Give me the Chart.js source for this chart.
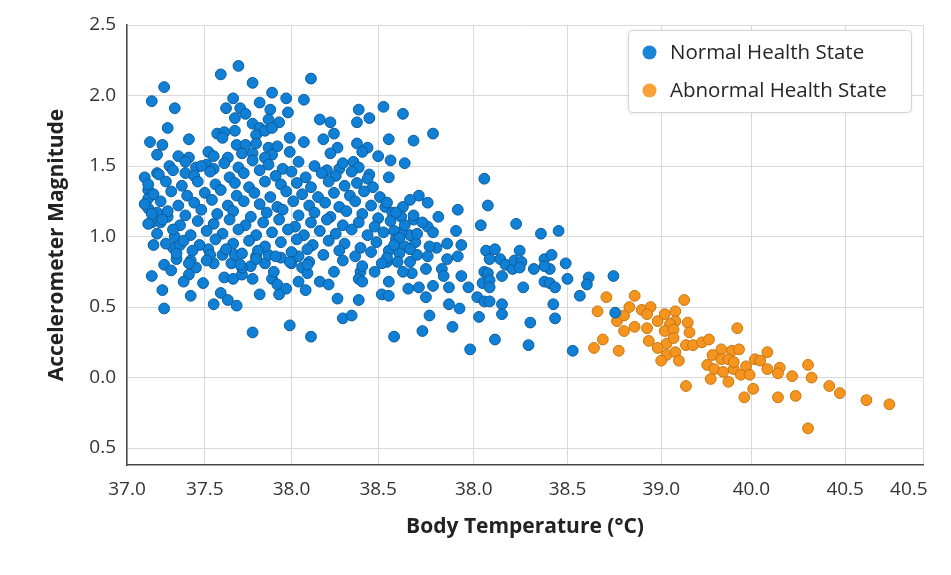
<!DOCTYPE html>
<html>
<head>
<meta charset="utf-8">
<script src="https://cdn.jsdelivr.net/npm/chart.js@4.4.1/dist/chart.umd.min.js"></script>
<style>
  html, body { margin: 0; padding: 0; background: #ffffff; }
  canvas { display: block; }
</style>
</head>
<body>
<canvas id="chart" width="951" height="575"></canvas>
<script>
// ---- Data ----
const seriesLabels = ['Normal Health State', 'Abnormal Health State'];

// x-axis tick positions (data units) and the labels printed under them
const xTickValues = [37.0, 37.44, 37.93, 38.42, 38.96, 39.49, 40.02, 40.53, 41.06, 41.42, 41.5];
const xTickLabels = ['37.0', '37.5', '38.0', '38.5', '38.0', '38.5', '39.0', '40.0', '40.5', '40.5', ''];
// y-axis tick positions and labels
const yTickValues = [-0.5, 0.0, 0.5, 1.0, 1.5, 2.0, 2.5];
const yTickLabels = ['0.5', '0.0', '0.5', '1.0', '1.5', '2.0', '2.5'];

// Normal health state: [body temperature, accelerometer magnitude]
const normalPoints = [
  [37.63,2.21],[37.53,2.15],[37.71,2.09],[37.21,2.06],[37.14,1.96],[37.27,1.91],[37.60,1.98],[37.56,1.91],
  [37.64,1.91],[37.67,1.87],[37.61,1.84],[37.75,1.95],[37.82,2.02],[37.90,1.98],[38.00,1.97],[38.04,2.12],
  [37.81,1.90],[37.91,1.88],[37.86,1.81],[37.80,1.83],[37.71,1.80],[37.23,1.77],[37.13,1.67],[37.20,1.65],
  [37.35,1.69],[37.17,1.58],[37.29,1.57],[37.35,1.56],[37.51,1.73],[37.55,1.74],[37.61,1.75],[37.54,1.70],
  [37.75,1.77],[37.73,1.72],[37.78,1.75],[37.82,1.77],[37.92,1.70],[38.00,1.67],[37.62,1.65],[37.67,1.65],
  [37.73,1.66],[37.80,1.63],[37.85,1.64],[37.92,1.60],[37.46,1.60],[37.49,1.57],[37.65,1.59],[37.71,1.59],
  [37.82,1.58],[37.78,1.56],[37.57,1.56],[37.24,1.50],[37.17,1.45],[37.10,1.42],[37.33,1.45],[37.39,1.49],
  [37.45,1.51],[37.49,1.48],[37.12,1.33],[37.12,1.27],[37.12,1.20],[37.17,1.17],[37.14,1.10],[37.19,1.10],
  [37.23,1.14],[37.15,0.94],[37.27,1.00],[37.26,0.92],[37.30,0.94],[37.28,0.84],[37.21,0.80],[37.25,0.76],
  [37.14,0.72],[37.36,0.83],[37.39,0.78],[37.35,0.73],[37.32,0.68],[37.43,0.67],[37.36,0.58],[37.20,0.62],
  [37.21,0.49],[37.49,0.81],[37.46,0.91],[37.55,0.71],[37.60,0.70],[37.53,0.60],[37.57,0.55],[37.62,0.51],
  [37.49,0.52],[37.75,0.59],[37.71,0.32],[37.92,0.37],[37.65,0.73],[37.71,0.70],[37.82,0.70],[37.85,0.66],
  [37.90,0.63],[37.86,0.59],[38.01,0.62],[37.97,0.68],[38.04,0.29],[37.83,0.75],[37.78,0.81],[37.93,0.81],
  [37.99,0.78],[38.02,0.74],[37.70,0.79],[37.65,0.78],[37.59,0.81],[37.54,0.87],[37.61,0.87],[37.73,0.86],
  [37.80,0.87],[37.87,0.85],[37.97,0.86],[38.03,0.82],
  [38.31,1.90],[38.45,1.92],[38.56,1.87],[38.37,1.84],[38.30,1.81],[38.09,1.83],[38.15,1.81],[38.73,1.73],
  [38.48,1.69],[38.62,1.68],[38.17,1.73],[38.11,1.69],[38.19,1.63],[38.30,1.66],[38.36,1.63],[38.33,1.60],
  [38.42,1.57],[38.49,1.54],[38.57,1.52],[38.48,1.42],[39.02,1.41],[39.04,1.22],[39.00,1.08],[38.28,1.53],
  [38.20,1.48],[38.37,1.44],[38.65,1.29],[38.70,1.24],[38.60,1.26],[38.56,1.21],[38.46,1.21],[38.50,1.17],
  [38.55,1.14],[38.62,1.12],[38.87,1.19],[38.76,1.14],[38.70,1.07],[38.73,1.03],[38.86,1.04],[38.89,0.94],
  [38.81,0.95],[38.75,0.92],[38.71,0.93],[38.70,0.86],[38.81,0.84],[38.87,0.86],[38.63,0.96],[38.60,1.01],
  [38.55,1.03],[38.51,1.04],[38.52,0.98],[38.57,0.93],[38.54,0.88],[38.48,0.90],[38.47,0.82],[38.53,0.82],
  [38.60,0.82],[38.64,0.87],[38.69,0.77],[38.78,0.77],[38.79,0.72],[38.89,0.72],[38.61,0.74],[38.56,0.75],
  [38.48,0.68],[38.40,0.75],[38.32,0.75],[38.31,0.70],[38.33,0.68],[38.44,0.59],[38.48,0.58],[38.59,0.63],
  [38.65,0.64],[38.73,0.65],[38.82,0.64],[38.93,0.64],[38.98,0.57],[39.02,0.54],[39.01,0.67],[39.02,0.75],
  [39.03,0.90],[38.69,0.57],[38.82,0.52],[38.88,0.49],[38.71,0.44],[38.99,0.43],[38.84,0.36],[38.67,0.33],
  [38.51,0.29],[38.94,0.20],[38.31,0.55],[38.19,0.56],[38.09,0.68],[38.14,0.66],[38.22,0.42],[38.27,0.44],
  [38.17,0.75],[38.15,1.59],
  [39.20,1.09],[39.34,1.02],[39.44,1.04],[39.08,0.91],[39.22,0.90],[39.05,0.84],[39.11,0.84],[39.14,0.80],
  [39.18,0.77],[39.19,0.83],[39.23,0.82],[39.22,0.78],[39.36,0.84],[39.40,0.87],[39.39,0.77],[39.36,0.79],
  [39.30,0.77],[39.48,0.81],[39.04,0.74],[39.12,0.72],[39.05,0.69],[39.05,0.64],[39.24,0.64],[39.36,0.68],
  [39.39,0.67],[39.42,0.64],[39.49,0.70],[39.61,0.71],[39.60,0.66],[39.56,0.58],[39.75,0.72],[39.05,0.54],
  [39.12,0.52],[39.12,0.45],[39.41,0.52],[39.42,0.42],[39.28,0.39],[39.08,0.27],[39.27,0.23],[39.52,0.19],
  [39.76,0.46],
  [37.33,1.53],[37.42,1.50],[37.55,1.52],[37.63,1.49],[37.71,1.54],[37.80,1.51],[37.88,1.48],[37.97,1.53],
  [38.06,1.50],[38.13,1.47],[38.22,1.52],[38.31,1.49],
  [37.18,1.44],[37.26,1.47],[37.38,1.43],[37.47,1.46],[37.58,1.42],[37.66,1.45],[37.75,1.47],[37.84,1.43],
  [37.93,1.46],[38.01,1.42],[38.10,1.45],[38.18,1.43],[38.27,1.46],[38.36,1.41],
  [37.12,1.37],[37.22,1.39],[37.31,1.36],[37.40,1.39],[37.50,1.37],[37.61,1.38],[37.69,1.35],[37.78,1.39],
  [37.87,1.37],[37.96,1.38],[38.04,1.35],[38.14,1.39],[38.23,1.36],[38.30,1.38],[38.39,1.35],
  [37.15,1.30],[37.25,1.32],[37.34,1.29],[37.44,1.31],[37.53,1.33],[37.62,1.29],[37.72,1.31],[37.81,1.28],
  [37.90,1.32],[37.99,1.30],[38.08,1.28],[38.17,1.31],[38.26,1.29],[38.34,1.32],[38.43,1.28],
  [37.10,1.23],[37.19,1.25],[37.29,1.22],[37.38,1.24],[37.48,1.26],[37.57,1.22],[37.66,1.25],[37.75,1.23],
  [37.85,1.21],[37.94,1.25],[38.03,1.22],[38.12,1.24],[38.20,1.21],[38.29,1.25],[38.38,1.22],[38.47,1.24],
  [37.14,1.16],[37.23,1.18],[37.33,1.15],[37.42,1.19],[37.51,1.16],[37.60,1.18],[37.70,1.14],[37.79,1.17],
  [37.88,1.19],[37.97,1.15],[38.06,1.17],[38.15,1.14],[38.24,1.18],[38.33,1.16],[38.42,1.13],[38.52,1.17],
  [38.62,1.15],
  [37.12,1.09],[37.20,1.12],[37.30,1.08],[37.40,1.11],[37.49,1.09],[37.58,1.12],[37.67,1.08],[37.77,1.10],
  [37.86,1.12],[37.95,1.07],[38.04,1.10],[38.13,1.12],[38.22,1.08],[38.31,1.10],[38.40,1.07],[38.49,1.11],
  [38.57,1.08],[38.67,1.10],
  [37.17,1.02],[37.26,1.05],[37.36,1.01],[37.45,1.04],[37.54,1.02],[37.63,1.05],[37.73,1.01],[37.82,1.03],
  [37.91,1.05],[38.00,1.01],[38.09,1.04],[38.18,1.02],[38.27,1.05],[38.36,1.01],[38.45,1.03],[38.54,0.99],
  [38.64,1.02],
  [37.22,0.95],[37.32,0.97],[37.41,0.94],[37.50,0.98],[37.60,0.95],[37.69,0.97],[37.78,0.93],[37.87,0.96],
  [37.96,0.98],[38.05,0.94],[38.14,0.97],[38.23,0.95],[38.32,0.92],[38.41,0.96],[38.51,0.94],[38.60,0.91],
  [37.28,0.88],[37.37,0.90],[37.47,0.87],[37.56,0.91],[37.65,0.88],[37.74,0.90],[37.84,0.86],[37.93,0.89],
  [38.02,0.91],[38.11,0.87],[38.20,0.90],[38.29,0.86],[38.38,0.89],[38.47,0.85],
  [37.35,0.81],[37.45,0.83],[37.64,0.80],[37.73,0.84],[37.92,0.82],[38.02,0.80],[38.22,0.83],[38.33,0.79],
  [38.44,0.81]
];

// Abnormal health state: [body temperature, accelerometer magnitude]
const abnormalPoints = [
  [39.71,0.57],[39.66,0.47],[39.69,0.27],[39.64,0.21],[39.78,0.19],[39.77,0.40],[39.81,0.44],[39.81,0.33],
  [39.87,0.58],[39.84,0.50],[39.91,0.48],[39.96,0.50],[39.94,0.45],[39.87,0.36],[40.00,0.40],[40.04,0.45],
  [40.10,0.47],[40.15,0.55],[40.10,0.40],[40.07,0.38],[40.04,0.33],[40.09,0.34],[40.17,0.39],[40.18,0.32],
  [39.94,0.35],[39.95,0.26],[40.05,0.24],[40.09,0.28],[40.00,0.21],[40.05,0.16],[40.10,0.18],[40.02,0.12],
  [40.12,0.12],[40.16,0.23],[40.20,0.23],[40.25,0.25],[40.29,0.27],[40.45,0.35],[40.36,0.20],[40.31,0.16],
  [40.42,0.19],[40.46,0.20],[40.36,0.13],[40.40,0.13],[40.28,0.09],[40.32,0.06],[40.37,0.04],[40.43,0.06],
  [40.43,0.11],[40.50,0.08],[40.47,0.02],[40.52,0.02],[40.55,0.13],[40.58,0.12],[40.62,0.18],[40.30,-0.01],
  [40.40,-0.03],[40.54,-0.08],[40.49,-0.14],[40.16,-0.06],[40.62,0.06],[40.69,0.07],[40.68,0.03],[40.85,0.09],
  [40.76,0.01],[40.87,0.00],[40.68,-0.14],[40.78,-0.13],[40.97,-0.06],[41.03,-0.11],[41.18,-0.16],[41.31,-0.19],
  [40.85,-0.36]
];

// ---- Styles ----
const FONT = "'Open Sans', 'Noto Sans', 'DejaVu Sans', sans-serif";
const fillColors = ['#0f80d6', '#f5941e'];
const edgeColors = ['#0a5c9c', '#c7760f'];
const legendColors = ['#1a84d8', '#f7a136'];

const boxLegend = {
  id: 'boxLegend',
  afterDraw(chart) {
    const { ctx, chartArea } = chart;
    const w = 283, h = 82;
    const x = chartArea.right - 12 - w;
    const y = chartArea.top + 5;
    ctx.save();
    ctx.shadowColor = 'rgba(0,0,0,0.10)';
    ctx.shadowBlur = 4;
    ctx.shadowOffsetY = 1;
    ctx.beginPath();
    ctx.roundRect(x, y, w, h, 4);
    ctx.fillStyle = '#ffffff';
    ctx.fill();
    ctx.restore();
    ctx.save();
    ctx.beginPath();
    ctx.roundRect(x + 0.5, y + 0.5, w, h, 4);
    ctx.strokeStyle = '#d4d4d4';
    ctx.lineWidth = 1;
    ctx.stroke();
    chart.data.datasets.forEach((ds, i) => {
      const cy = y + 22.5 + i * 38;
      ctx.beginPath();
      ctx.arc(x + 21.5, cy, 7, 0, Math.PI * 2);
      ctx.fillStyle = legendColors[i];
      ctx.fill();
      ctx.fillStyle = '#262626';
      ctx.font = '500 20.5px ' + FONT;
      ctx.textBaseline = 'middle';
      ctx.textAlign = 'left';
      ctx.fillText(ds.label, x + 42, cy + 1);
    });
    ctx.restore();
  }
};

const toXY = arr => arr.map(([x, y]) => ({ x, y }));

new Chart(document.getElementById('chart'), {
  type: 'scatter',
  data: {
    datasets: [
      {
        label: seriesLabels[0],
        data: toXY(normalPoints),
        backgroundColor: fillColors[0],
        borderColor: edgeColors[0],
        borderWidth: 1,
        pointRadius: 5.4,
        pointHoverRadius: 5.4
      },
      {
        label: seriesLabels[1],
        data: toXY(abnormalPoints),
        backgroundColor: fillColors[1],
        borderColor: edgeColors[1],
        borderWidth: 1,
        pointRadius: 5.4,
        pointHoverRadius: 5.4
      }
    ]
  },
  options: {
    responsive: false,
    animation: false,
    devicePixelRatio: 1,
    layout: { padding: { left: 0, right: 28, top: 25, bottom: 0 } },
    plugins: { legend: { display: false }, tooltip: { enabled: false } },
    scales: {
      x: {
        type: 'linear',
        min: 37.0,
        max: 41.5,
        afterBuildTicks: s => { s.ticks = xTickValues.map(v => ({ value: v })); },
        afterFit: s => { s.height = 110; },
        ticks: {
          autoSkip: false,
          maxRotation: 0,
          padding: 13,
          color: '#333333',
          font: { family: FONT, size: 19 },
          callback: (v, i) => xTickLabels[i]
        },
        grid: {
          drawTicks: false,
          color: c => (c.index === xTickLabels.length - 2) ? 'rgba(0,0,0,0)' : '#d9d9d9',
          lineWidth: 1
        },
        border: { display: true, color: '#4a4a4a', width: 1.5 },
        title: {
          display: true,
          text: 'Body Temperature (°C)',
          color: '#222222',
          font: { family: FONT, size: 21, weight: 'bold' },
          padding: { top: 0, bottom: 35 }
        }
      },
      y: {
        type: 'linear',
        min: -0.62,
        max: 2.5,
        afterBuildTicks: s => { s.ticks = yTickValues.map(v => ({ value: v })); },
        afterFit: s => { s.width = 127; },
        ticks: {
          padding: 11,
          color: '#333333',
          font: { family: FONT, size: 19 },
          callback: (v, i) => yTickLabels[i]
        },
        grid: { drawTicks: false, color: '#d9d9d9', lineWidth: 1 },
        border: { display: true, color: '#4a4a4a', width: 1.5 },
        title: {
          display: true,
          text: 'Accelerometer Magnitude',
          color: '#222222',
          font: { family: FONT, size: 21, weight: 'bold' },
          padding: { top: 44, bottom: 0 }
        }
      }
    }
  },
  plugins: [boxLegend]
});
</script>
</body>
</html>
